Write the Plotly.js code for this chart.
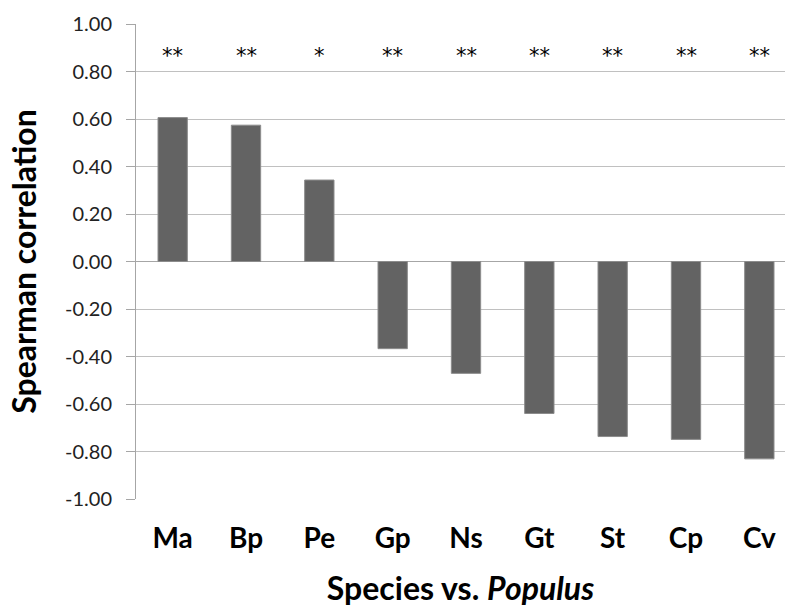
<!DOCTYPE html>
<html>
<head>
<meta charset="utf-8">
<script src="https://cdn.plot.ly/plotly-3.0.1.min.js"></script>
<style>html,body{margin:0;padding:0;background:#fff;}#chart{width:785px;height:609px;}</style>
</head>
<body>
<div id="chart"></div>
<script>
var species = ['Ma', 'Bp', 'Pe', 'Gp', 'Ns', 'Gt', 'St', 'Cp', 'Cv'];
var correlation = [0.606, 0.574, 0.343, -0.367, -0.471, -0.640, -0.737, -0.749, -0.831];
var significance = ['**', '**', '*', '**', '**', '**', '**', '**', '**'];
var yTicks = [-1, -0.8, -0.6, -0.4, -0.2, 0, 0.2, 0.4, 0.6, 0.8, 1];
var yTickText = yTicks.map(function (v) { return v.toFixed(2); });

var FONT = 'Lato, "Open Sans", sans-serif';

var bars = {
  type: 'bar',
  x: species,
  y: correlation,
  width: 0.4,
  marker: {color: '#636363', line: {color: '#8c8c8c', width: 1}},
  hoverinfo: 'x+y'
};

var annotations = species.map(function (s, i) {
  return {
    x: s, y: 0.865, xref: 'x', yref: 'y',
    text: significance[i], showarrow: false,
    font: {family: '"DejaVu Sans", sans-serif', size: 21, color: '#000'}
  };
});

var layout = {
  width: 785, height: 609,
  margin: {l: 136, r: 0, t: 23.5, b: 109.5},
  paper_bgcolor: '#fff', plot_bgcolor: '#fff',
  showlegend: false,
  font: {family: FONT, color: '#000'},
  xaxis: {
    type: 'category',
    range: [-0.5, 8.35],
    showgrid: false, showline: false, ticks: '', zeroline: false,
    tickfont: {family: FONT, size: 28, color: '#000', weight: 'bold'},
    ticklabelstandoff: 20,
    title: {
      text: '<b>Species vs. <i>Populus</i></b>',
      font: {family: FONT, size: 32, color: '#000'},
      standoff: 24
    },
    automargin: false
  },
  yaxis: {
    range: [-1, 1],
    tickvals: yTicks,
    ticktext: yTickText,
    showgrid: true, gridcolor: '#c0c0c0', gridwidth: 1,
    zeroline: true, zerolinecolor: '#a6a6a6', zerolinewidth: 1,
    showline: true, linecolor: '#a6a6a6', linewidth: 1,
    ticks: 'outside', ticklen: 9, tickcolor: '#a6a6a6',
    tickfont: {family: FONT, size: 20, color: '#222'},
    ticklabelstandoff: 10,
    title: {
      text: '<b>Spearman correlation</b>',
      font: {family: FONT, size: 32, color: '#000'},
      standoff: 18
    },
    automargin: false
  },
  annotations: annotations,
  bargap: 0.6
};

Plotly.newPlot('chart', [bars], layout, {displayModeBar: false, staticPlot: true});
</script>
</body>
</html>
